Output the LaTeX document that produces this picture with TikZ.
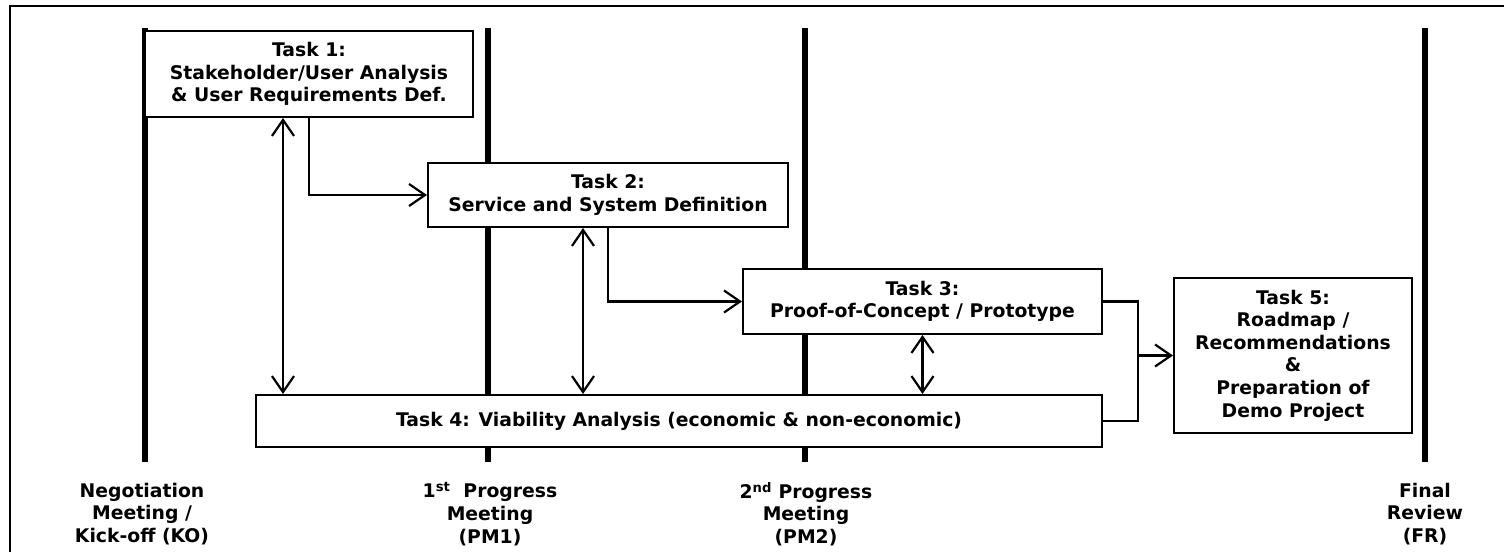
\documentclass[tikz,border=0pt]{standalone}
\usepackage{fontspec}
\setmainfont{DejaVu Sans}
\usetikzlibrary{arrows.meta}
\begin{document}
\begin{tikzpicture}[x=1pt,y=-1pt,
  txt/.style={font=\fontsize{18.8}{22.6}\selectfont\bfseries, align=center},
  task/.style={txt, draw, line width=2pt, fill=white, inner sep=0pt},
  milestone/.style={line width=5.5pt},
  link/.style={line width=2.2pt, -{Straight Barb[length=16pt,width=22pt]}},
  bilink/.style={line width=2.2pt, {Straight Barb[length=16pt,width=22pt]}-{Straight Barb[length=16pt,width=22pt]}},
  joint/.style={line width=2.4pt},
  mslabel/.style={txt, inner sep=0pt}
]
\useasboundingbox (0,0) rectangle (1504,552);

% outer frame
\draw[line width=2pt] (10,552) -- (10,6) -- (1504,6);

% milestone time lines
\coordinate (ko) at (145,28);
\coordinate (pm1) at (488,28);
\coordinate (pm2) at (805,28);
\coordinate (fr) at (1425,28);
\foreach \m in {ko,pm1,pm2,fr}
  \draw[milestone] (\m) -- ++(0,434);

% tasks
\node[task, minimum width=328pt, minimum height=86pt] (t1) at (309,74)
  {Task 1:\\Stakeholder/User Analysis\\\& User Requirements Def.};
\node[task, minimum width=360pt, minimum height=64pt] (t2) at (608,195)
  {Task 2:\\Service and System Definition};
\node[task, minimum width=359pt, minimum height=65pt] (t3) at (922.5,301.5)
  {Task 3:\\Proof-of-Concept / Prototype};
\node[task, minimum width=846pt, minimum height=52pt] (t4) at (679,421)
  {Task 4: Viability Analysis (economic \& non-economic)};
\node[task, minimum width=238pt, minimum height=155pt] (t5) at (1293,355.5)
  {Task 5:\\Roadmap /\\Recommendations\\\&\\Preparation of\\Demo Project};

% sequence links
\draw[link] (t1.south) |- (t2.west);
\draw[link] (t2.south) |- (t3.west);

% exchanges with the viability analysis
\coordinate (x1) at (283,0);
\coordinate (x2) at (583,0);
\draw[bilink] (t1.south -| x1) -- (t4.north -| x1);
\draw[bilink] (t2.south -| x2) -- (t4.north -| x2);
\draw[bilink] (t3.south) -- (t4.north -| t3.south);

% merge into task 5
\coordinate (j) at (1138,355.5);
\draw[joint] (t3.east) -| (j) |- (t4.east);
\draw[link] (j) -- (t5.west);

% milestone labels
\node[mslabel] (lko) at (142,514) {Negotiation\\Meeting /\\Kick-off (KO)};
\node[mslabel] (lpm1) at (490,514) {1\textsuperscript{st}\ \ Progress\\Meeting\\(PM1)};
\node[mslabel] (lpm2) at (806,514) {2\textsuperscript{nd} Progress\\Meeting\\(PM2)};
\node[mslabel] (lfr) at (1425,514) {Final\\Review\\(FR)};
\end{tikzpicture}
\end{document}
